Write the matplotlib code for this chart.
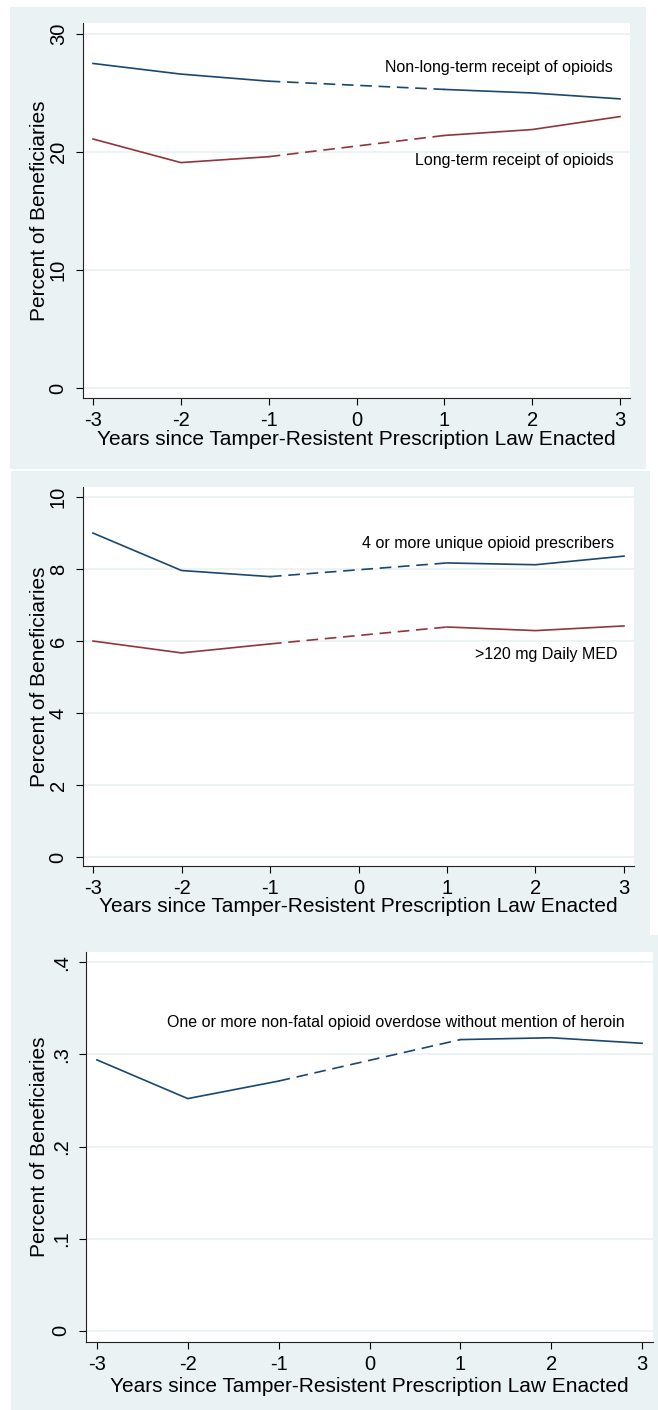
import matplotlib.pyplot as plt
from matplotlib.patches import Rectangle

plt.rcParams['font.family'] = ['Liberation Sans', 'DejaVu Sans']
plt.rcParams['axes.unicode_minus'] = False

years = [-3, -2, -1, 1, 2, 3]
xticks = [-3, -2, -1, 0, 1, 2, 3]

non_long_term = [27.5, 26.6, 26.0, 25.3, 25.0, 24.5]
long_term = [21.1, 19.1, 19.6, 21.4, 21.9, 23.0]
many_prescribers = [9.0, 7.96, 7.79, 8.17, 8.12, 8.36]
high_med = [6.0, 5.67, 5.92, 6.39, 6.29, 6.42]
overdose = [0.294, 0.252, 0.271, 0.316, 0.318, 0.312]

yticks1 = [0, 10, 20, 30]
yticks2 = [0, 2, 4, 6, 8, 10]
yticks3 = [0, 0.1, 0.2, 0.3, 0.4]
yticklabels3 = ["0", ".1", ".2", ".3", ".4"]

xlabel = "Years since Tamper-Resistent Prescription Law Enacted"
ylabel = "Percent of Beneficiaries"

NAVY = "#1a476f"
MAROON = "#90353b"
BG = "#eaf2f3"

W, H = 658, 1410
fig = plt.figure(figsize=(W / 100, H / 100), dpi=100)


def px_box(x0, y0, x1, y1):
    return [x0 / W, 1 - y1 / H, (x1 - x0) / W, (y1 - y0) / H]


def background(x0, y0, x1, y1):
    b = px_box(x0, y0, x1, y1)
    fig.add_artist(Rectangle((b[0], b[1]), b[2], b[3], transform=fig.transFigure,
                             facecolor=BG, edgecolor="none", zorder=0))


def series(ax, y, color):
    # solid before and after, dashed across the gap at year 0
    ax.plot(years[:3], y[:3], color=color, lw=1.2, zorder=3)
    ax.plot(years[2:4], y[2:4], color=color, lw=1.2, ls=(0, (7, 4)), zorder=3)
    ax.plot(years[3:], y[3:], color=color, lw=1.2, zorder=3)


def panel(box, xlim, ylim, yt, ytl, xlab_y, ylab_x):
    ax = fig.add_axes(px_box(*box))
    ax.set_facecolor("white")
    ax.set_xlim(*xlim)
    ax.set_ylim(*ylim)
    ax.set_xticks(xticks)
    ax.set_yticks(yt)
    ax.set_yticklabels(ytl, rotation=90, va="center")
    for s in ["top", "right"]:
        ax.spines[s].set_visible(False)
    for s in ["left", "bottom"]:
        ax.spines[s].set_linewidth(0.8)
        ax.spines[s].set_color("#222222")
    ax.tick_params(direction="out", length=5, width=0.8, labelsize=14.5, pad=4)
    ax.tick_params(axis="y", pad=6)
    ax.grid(axis="y", color=BG, lw=1.3)
    ax.set_axisbelow(True)
    fig.text((box[0] + box[2]) / 2 / W, 1 - xlab_y / H, xlabel, ha="center",
             va="center", fontsize=15)
    fig.text(ylab_x / W, 1 - (box[1] + box[3]) / 2 / H, ylabel, rotation=90,
             ha="center", va="center", fontsize=15)
    return ax


# panel 1
background(10, 7, 646, 469)
ax1 = panel((83, 23, 630, 398), (-3.114, 3.114), (-0.85, 30.93), yticks1,
            [str(v) for v in yticks1], 439, 40)
series(ax1, non_long_term, NAVY)
series(ax1, long_term, MAROON)
ax1.text(2.92, 27.2, "Non-long-term receipt of opioids", ha="right", va="center", fontsize=11.5)
ax1.text(2.93, 19.3, "Long-term receipt of opioids", ha="right", va="center", fontsize=11.5)

# panel 2
background(11, 471, 650, 935)
ax2 = panel((83, 487, 634, 866), (-3.113, 3.113), (-0.25, 10.28), yticks2,
            [str(v) for v in yticks2], 907, 40)
series(ax2, many_prescribers, NAVY)
series(ax2, high_med, MAROON)
ax2.text(2.89, 8.72, "4 or more unique opioid prescribers", ha="right", va="center", fontsize=11.5)
ax2.text(2.93, 5.64, ">120 mg Daily MED", ha="right", va="center", fontsize=11.5)

# panel 3
background(11, 935, 658, 1410)
ax3 = panel((86, 952, 653, 1342), (-3.12, 3.12), (-0.012, 0.411), yticks3,
            yticklabels3, 1386, 40)
series(ax3, overdose, NAVY)
ax3.text(2.81, 0.335, "One or more non-fatal opioid overdose without mention of heroin",
         ha="right", va="center", fontsize=11.5)

fig.savefig("out.png", dpi=100)
